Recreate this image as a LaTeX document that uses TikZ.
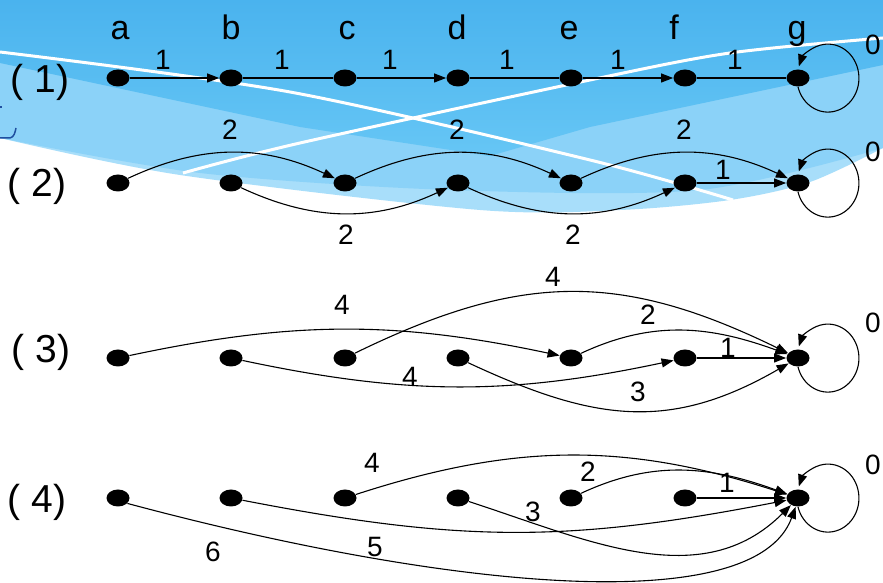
\documentclass[tikz,border=0pt]{standalone}
\usepackage{fontspec}
\setmainfont{Liberation Sans}
\usepackage{xcolor}
\definecolor{skydark}{HTML}{4AB3EE}
\definecolor{skymid}{HTML}{66C6F5}
\definecolor{skylight}{HTML}{8BD2F8}
\definecolor{skypale}{HTML}{A8DEFA}
\definecolor{markblue}{HTML}{1F4FA0}
\usepackage{tikz}
\usetikzlibrary{shapes.geometric,arrows.meta}

\begin{document}
\begin{tikzpicture}[x=0.5pt, y=0.5pt,
    dot/.style={ellipse, fill=black, minimum width=11.5pt, minimum height=8.5pt, inner sep=0pt},
    plain/.style={draw=black, line width=0.55pt},
    edge/.style={plain, -{Triangle[length=6pt,width=4.5pt]}},
    lbl/.style={anchor=base, inner sep=0pt, font=\fontsize{14}{16}\selectfont},
    collbl/.style={anchor=base, inner sep=0pt, font=\fontsize{17}{19}\selectfont},
    rowlbl/.style={anchor=base, inner sep=0pt, font=\fontsize{19.5}{21}\selectfont},
    swoosh/.style={white, line width=1.5pt}]
        \useasboundingbox (0,0) rectangle (883,583);
        % Slide background
        \fill[white] (0,0) rectangle (883,583);
        \fill[skypale] (0,583) -- plot[smooth] coordinates {(0,445) (180,408) (480,373) (620,373) (730,383) (810,401) (883,435)} -- (883,583) -- cycle;
        \fill[skylight] (0,583) -- plot[smooth] coordinates {(0,445) (200,410) (450,393) (700,393) (883,435)} -- (883,583) -- cycle;
        \shade[top color=skydark, bottom color=skymid] (0,583) -- (0,520) -- (300,456) -- (490,427) -- (590,456) -- (883,518) -- (883,583) -- cycle;
        \draw[swoosh] plot[smooth] coordinates {(0,531) (290,491) (590,423) (733,383)};
        \draw[swoosh] plot[smooth] coordinates {(183,410) (300,440) (590,503) (730,530) (883,545)};
        \draw[markblue, line width=0.75pt] (0,445) -- (10,445) .. controls (14,446) and (15,450) .. (16,455);
        \draw[markblue, line width=0.6pt] (0,476) -- (2,476);
        % Column and row labels
        \node[collbl] (ta) at (120,543) {a};
        \node[collbl] (tb) at (231,543) {b};
        \node[collbl] (tc) at (347,543) {c};
        \node[collbl] (td) at (457,543) {d};
        \node[collbl] (te) at (569,543) {e};
        \node[collbl] (tf) at (674,543) {f};
        \node[collbl] (tg) at (797,543) {g};
        \node[rowlbl] (r1) at (40,490) {( 1)};
        \node[rowlbl] (r2) at (37,386) {( 2)};
        \node[rowlbl] (r3) at (41,220) {( 3)};
        \node[rowlbl] (r4) at (37,70) {( 4)};
        % Row 1
        \node[dot] (a1) at (118,505) {}; \node[dot] (b1) at (231,505) {}; \node[dot] (c1) at (345,505) {};
        \node[dot] (d1) at (458,505) {}; \node[dot] (e1) at (571,505) {}; \node[dot] (f1) at (685,505) {};
        \node[dot] (g1) at (798,505) {};
        \draw[edge] (a1) -- (b1);
        \draw[plain] (b1) -- (c1);
        \draw[edge] (c1) -- (d1);
        \draw[plain] (d1) -- (e1);
        \draw[edge] (e1) -- (f1);
        \draw[plain] (f1) -- (g1);
        \draw[edge] (g1.south) arc[start angle=195, end angle=520, x radius=31, y radius=34];
        \node[lbl] (w1ab) at (163,513) {1};
        \node[lbl] (w1bc) at (282,513) {1};
        \node[lbl] (w1cd) at (390,513) {1};
        \node[lbl] (w1de) at (507,513) {1};
        \node[lbl] (w1ef) at (618,513) {1};
        \node[lbl] (w1fg) at (735,513) {1};
        \node[lbl] (w1gg) at (873,528) {0};
        % Row 2
        \node[dot] (a2) at (118,400) {}; \node[dot] (b2) at (231,400) {}; \node[dot] (c2) at (345,400) {};
        \node[dot] (d2) at (458,400) {}; \node[dot] (e2) at (571,400) {}; \node[dot] (f2) at (685,400) {};
        \node[dot] (g2) at (798,400) {};
        \draw[edge] (a2) to[out=25,in=155] (c2);
        \draw[edge] (c2) to[out=25,in=155] (e2);
        \draw[edge] (e2) to[out=25,in=155] (g2);
        \draw[edge] (b2) to[out=-25,in=-155] (d2);
        \draw[edge] (d2) to[out=-25,in=-155] (f2);
        \draw[edge] (f2) -- (g2);
        \draw[edge] (g2.south) arc[start angle=195, end angle=520, x radius=31, y radius=34];
        \node[lbl] (w2ac) at (230,443) {2};
        \node[lbl] (w2ce) at (457,443) {2};
        \node[lbl] (w2eg) at (684,443) {2};
        \node[lbl] (w2bd) at (346,338) {2};
        \node[lbl] (w2df) at (573,338) {2};
        \node[lbl] (w2fg) at (723,403) {1};
        \node[lbl] (w2gg) at (873,421) {0};
        % Row 3
        \node[dot] (a3) at (118,225) {}; \node[dot] (b3) at (231,225) {}; \node[dot] (c3) at (345,225) {};
        \node[dot] (d3) at (458,225) {}; \node[dot] (e3) at (571,225) {}; \node[dot] (f3) at (685,225) {};
        \node[dot] (g3) at (798,225) {};
        \draw[edge] (a3) to[out=12,in=168] (e3);
        \draw[edge] (c3) to[out=26,in=154,looseness=1.1] (g3);
        \draw[edge] (e3) to[out=25,in=160] (g3);
        \draw[edge] (b3) to[out=-12,in=-168] (f3);
        \draw[edge] (d3) to[out=-25,in=-150,looseness=1.1] (g3);
        \draw[edge] (f3) -- (g3);
        \draw[edge] (g3.south) arc[start angle=195, end angle=520, x radius=31, y radius=34];
        \node[lbl] (w3ae) at (342,268) {4};
        \node[lbl] (w3cg) at (553,296) {4};
        \node[lbl] (w3eg) at (648,258) {2};
        \node[lbl] (w3fg) at (728,225) {1};
        \node[lbl] (w3bf) at (410,196) {4};
        \node[lbl] (w3dg) at (638,181) {3};
        \node[lbl] (w3gg) at (873,250) {0};
        % Row 4
        \node[dot] (a4) at (118,85) {}; \node[dot] (b4) at (231,85) {}; \node[dot] (c4) at (345,85) {};
        \node[dot] (d4) at (458,85) {}; \node[dot] (e4) at (571,85) {}; \node[dot] (f4) at (685,85) {};
        \node[dot] (g4) at (798,85) {};
        \draw[edge] (c4) to[out=18,in=162] (g4);
        \draw[edge] (e4) to[out=25,in=160] (g4);
        \draw[edge] (f4) -- (g4);
        \draw[edge] (b4) to[out=-11,in=-169,looseness=1.05] (g4);
        \draw[edge] (d4) to[out=-18,in=-135] (g4);
        \draw[edge] (a4.-30) .. controls +(-15:330) and +(-110:120) .. (g4.-105);
        \draw[edge] (g4.south) arc[start angle=195, end angle=520, x radius=31, y radius=34];
        \node[lbl] (w4cg) at (372,110) {4};
        \node[lbl] (w4eg) at (588,101) {2};
        \node[lbl] (w4fg) at (727,90) {1};
        \node[lbl] (w4dg) at (533,61) {3};
        \node[lbl] (w4ag) at (213,21) {6};
        \node[lbl] (w4bg) at (375,26) {5};
        \node[lbl] (w4gg) at (873,108) {0};
\end{tikzpicture}
\end{document}
